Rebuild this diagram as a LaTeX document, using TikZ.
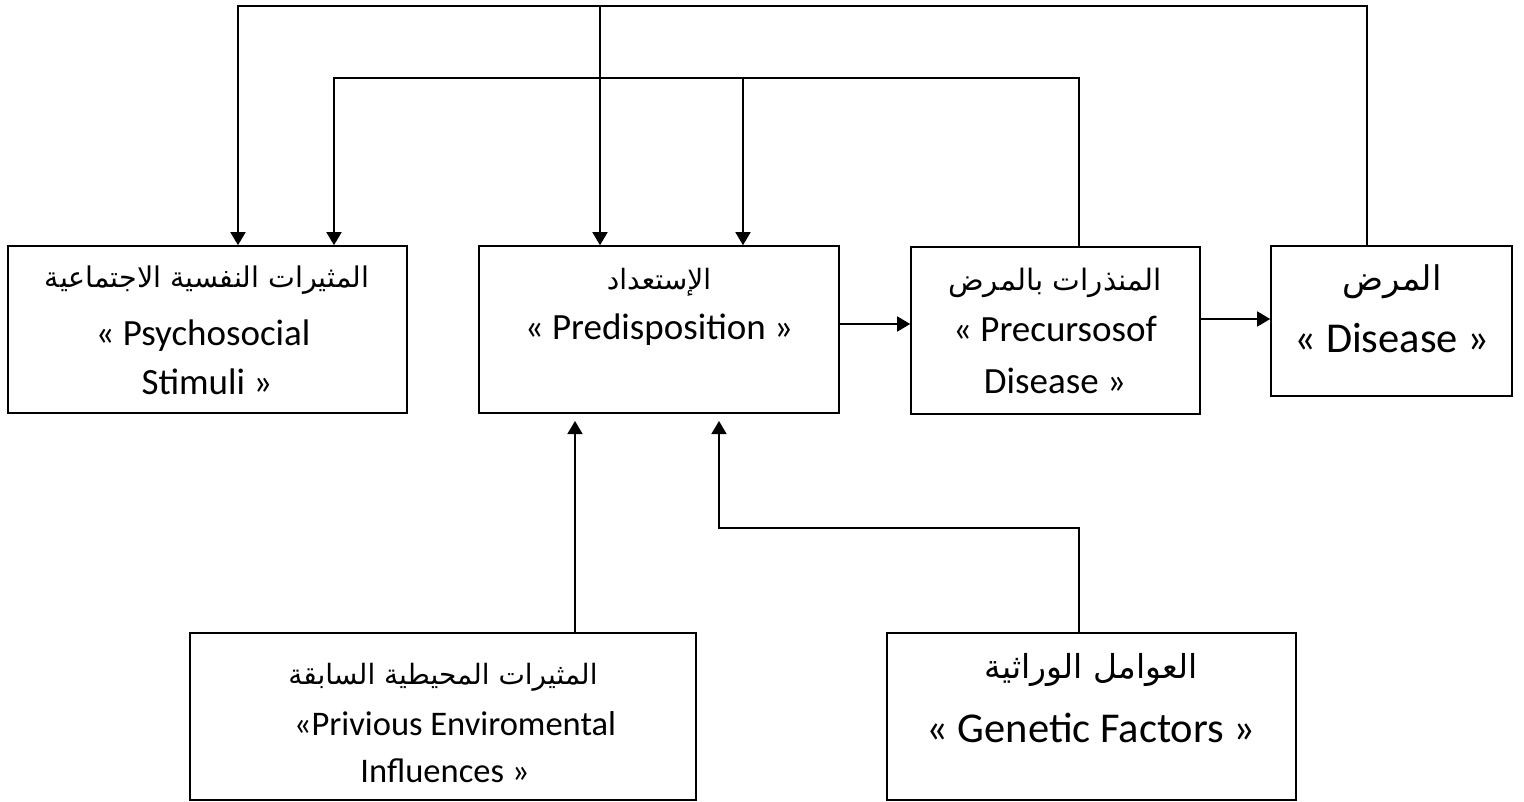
\documentclass[tikz,border=0pt]{standalone}
\usepackage{fontspec}
\setmainfont{Carlito}
\newfontfamily\arabicfont[Script=Arabic]{DejaVu Sans}
\TeXXeTstate=1
\usetikzlibrary{arrows.meta}
\tikzset{
  box/.style={draw=black, line width=1.6pt, rectangle, inner sep=0pt},
  conn/.style={draw=black, line width=1.6pt},
  arr/.style={conn, -{Triangle[length=13pt,width=15pt]}},
  lat/.style={anchor=base, inner sep=0pt, font=\fontsize{37}{44}\selectfont},
  latbig/.style={anchor=base, inner sep=0pt, font=\fontsize{42.5}{50}\selectfont},
  latsm/.style={anchor=base, inner sep=0pt, font=\fontsize{34.5}{40}\selectfont},
  ar/.style={inner sep=0pt, font=\arabicfont\fontsize{#1}{36}\selectfont},
  ar/.default=30
}
\begin{document}
\begin{tikzpicture}[x=1pt,y=-1pt]
\useasboundingbox (0,0) rectangle (1524,802);
% boxes
\node[box, minimum width=399pt, minimum height=167pt] (psy) at (207.5,329.5) {};
\node[box, minimum width=360pt, minimum height=167pt] (pred) at (659,329.5) {};
\node[box, minimum width=289pt, minimum height=167pt] (prec) at (1055.5,330.5) {};
\node[box, minimum width=241pt, minimum height=150pt] (dis) at (1391.5,321) {};
\node[box, minimum width=506pt, minimum height=167pt] (prev) at (443,716.5) {};
\node[box, minimum width=409pt, minimum height=167pt] (gen) at (1091.5,716.5) {};
% texts
\node[ar=28.5] (psyA) at (207,280) {\beginR المثيرات النفسية الاجتماعية\endR};
\node[lat] (psyL1) at (203,345) {« Psychosocial};
\node[lat] (psyL2) at (207,395) {Stimuli »};
\node[ar=28] (predA) at (659,282) {\beginR الإستعداد\endR};
\node[lat] (predL) at (659,340) {« Predisposition »};
\node[ar=29.5] (precA) at (1055,283) {\beginR المنذرات بالمرض\endR};
\node[lat] (precL1) at (1055,342) {« Precursosof};
\node[lat] (precL2) at (1055,393) {Disease »};
\node[ar=34] (disA) at (1392,282) {\beginR المرض\endR};
\node[latbig] (disL) at (1392,353) {« Disease »};
\node[ar=28] (prevA) at (443,677) {\beginR المثيرات المحيطية السابقة\endR};
\node[latsm] (prevL1) at (455,735) {«Privious Enviromental};
\node[latsm] (prevL2) at (445,782) {Influences »};
\node[ar=33] (genA) at (1091,670) {\beginR العوامل الوراثية\endR};
\node[latbig] (genL) at (1091,742) {« Genetic Factors »};
% connector coordinates
\coordinate (tR) at (1367,6);
\coordinate (tL) at (238,6);
\coordinate (tM) at (600,6);
\coordinate (sR) at (1079,78);
\coordinate (sL) at (334,78);
\coordinate (sM) at (743,78);
\coordinate (h1) at (0,324);
\coordinate (h2) at (0,319);
\coordinate (b1) at (575,421);
\coordinate (g1) at (1079,528);
\coordinate (g2) at (719,528);
\coordinate (g3) at (719,421);
% connectors
\draw[arr] (dis.north -| tR) -- (tR) -- (tL) -- (psy.north -| tL);
\draw[arr] (tM) -- (pred.north -| tM);
\draw[arr] (prec.north -| sR) -- (sR) -- (sL) -- (psy.north -| sL);
\draw[arr] (sM) -- (pred.north -| sM);
\draw[arr] (pred.east |- h1) -- (prec.west |- h1);
\draw[arr] (prec.east |- h2) -- (dis.west |- h2);
\draw[arr] (prev.north -| b1) -- (b1);
\draw[arr] (gen.north -| g1) -- (g1) -- (g2) -- (g3);
\end{tikzpicture}
\end{document}
